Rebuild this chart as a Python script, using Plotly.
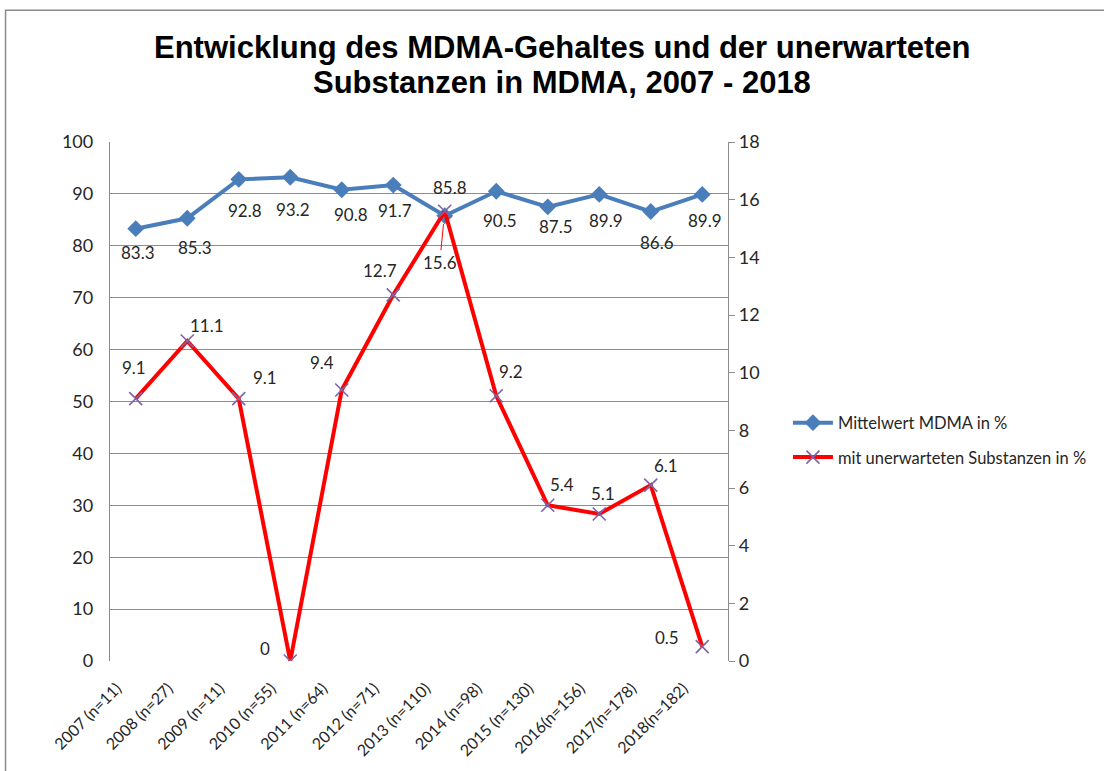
import plotly.graph_objects as go

# ---------------- data ----------------
categories = ["2007 (n=11)", "2008 (n=27)", "2009 (n=11)", "2010 (n=55)", "2011 (n=64)",
              "2012 (n=71)", "2013 (n=110)", "2014 (n=98)", "2015 (n=130)", "2016(n=156)",
              "2017(n=178)", "2018(n=182)"]
mdma_mean = [83.3, 85.3, 92.8, 93.2, 90.8, 91.7, 85.8, 90.5, 87.5, 89.9, 86.6, 89.9]
unexpected = [9.1, 11.1, 9.1, 0, 9.4, 12.7, 15.6, 9.2, 5.4, 5.1, 6.1, 0.5]
left_ticks = list(range(0, 101, 10))
right_ticks = list(range(0, 19, 2))

series_names = ["Mittelwert MDMA in %", "mit unerwarteten Substanzen in %"]
title_lines = ["Entwicklung des MDMA-Gehaltes und der unerwarteten",
               "Substanzen in MDMA, 2007 - 2018"]

# label pixel offsets (style only): (dx, dy) with dy positive = down
blue_offsets = [(2, 24), (8, 29), (6, 31), (3, 32), (9, 25), (2, 25),
                (5, -28), (4, 29), (8, 20), (7, 26), (6, 31), (3, 26)]
red_offsets = [(-2, -31), (20, -15), (26, -21), (-25, -13), (-20, -27), (-13, -24),
               (-5, 51), (15, -24), (14, -21), (4, -20), (15, -20), (-35, -9)]

BLUE = "#4a7ebb"
RED = "#ff0000"
XMARK = "#7e64a8"
GRID = "#8c8c8c"
TXT = "#262626"
FONT = "Lato"

fig = go.Figure()
fig.add_trace(go.Scatter(
    x=categories, y=mdma_mean, name=series_names[0], mode="lines+markers",
    line=dict(color=BLUE, width=4),
    marker=dict(symbol="diamond", size=13, color=BLUE),
    legendgroup="a", yaxis="y"))
fig.add_trace(go.Scatter(
    x=categories, y=unexpected, name=series_names[1], mode="lines+markers",
    line=dict(color=RED, width=4),
    marker=dict(symbol="x-thin", size=13, line=dict(color=XMARK, width=1.6)),
    legendgroup="b", yaxis="y2"))

annotations = []
for c, v, (dx, dy) in zip(categories, mdma_mean, blue_offsets):
    annotations.append(dict(x=c, y=v, xref="x", yref="y", text=f"{v:g}", showarrow=False,
                            xshift=dx, yshift=-dy, font=dict(family=FONT, size=17, color=TXT)))
for c, v, (dx, dy) in zip(categories, unexpected, red_offsets):
    if v == max(unexpected):
        annotations.append(dict(x=c, y=v, xref="x", yref="y2", text=f"{v:g}", showarrow=True,
                                arrowhead=0, arrowwidth=1, arrowcolor=RED, ax=dx, ay=dy,
                                standoff=13, font=dict(family=FONT, size=17, color=TXT)))
    else:
        annotations.append(dict(x=c, y=v, xref="x", yref="y2", text=f"{v:g}", showarrow=False,
                                xshift=dx, yshift=-dy, font=dict(family=FONT, size=17, color=TXT)))

for line_text, ty in zip(title_lines, [1.183, 1.1137]):
    annotations.append(dict(x=0.7306, y=ty, xref="paper", yref="paper", text=line_text,
                            showarrow=False, xanchor="center", yanchor="middle",
                            font=dict(family="Liberation Sans", size=31, color="black",
                                      weight="bold")))

fig.update_layout(
    width=1104, height=771,
    margin=dict(l=110, r=374, t=142, b=110),
    paper_bgcolor="white", plot_bgcolor="white",
    font=dict(family=FONT, size=17, color=TXT),
    xaxis=dict(type="category", range=[-0.5, 11.5], tickangle=-45, showgrid=False,
               showline=False, ticks="", tickfont=dict(family=FONT, size=16, color=TXT),
               zeroline=False, ticklabelshift=-19, ticklabelstandoff=14),
    yaxis=dict(range=[0, 100], tickvals=left_ticks, showgrid=True, gridcolor=GRID, gridwidth=1.3,
               showline=True, linecolor=GRID, linewidth=1.3, ticks="", zeroline=False,
               ticklabelstandoff=12, tickfont=dict(family=FONT, size=18, color=TXT)),
    yaxis2=dict(range=[0, 18], tickvals=right_ticks, overlaying="y", side="right", showgrid=False,
                showline=True, linecolor=GRID, linewidth=1.3, ticks="outside", ticklen=6,
                tickcolor=GRID, tickwidth=1.3, zeroline=False,
                tickfont=dict(family=FONT, size=18, color=TXT)),
    legend=dict(x=1.097, y=0.426, xanchor="left", yanchor="middle", traceorder="grouped",
                tracegroupgap=10, itemwidth=40, font=dict(family=FONT, size=16.5, color=TXT),
                bgcolor="rgba(0,0,0,0)"),
    annotations=annotations,
    shapes=[dict(type="rect", xref="paper", yref="paper", x0=-0.169, x1=1.62, y0=-0.4, y1=1.254,
                 line=dict(color="#8a8a8a", width=1.5), fillcolor="rgba(0,0,0,0)", layer="below")],
)

fig.write_html("out.html", config={"displayModeBar": False},
               post_script="document.body.style.margin='0';")
